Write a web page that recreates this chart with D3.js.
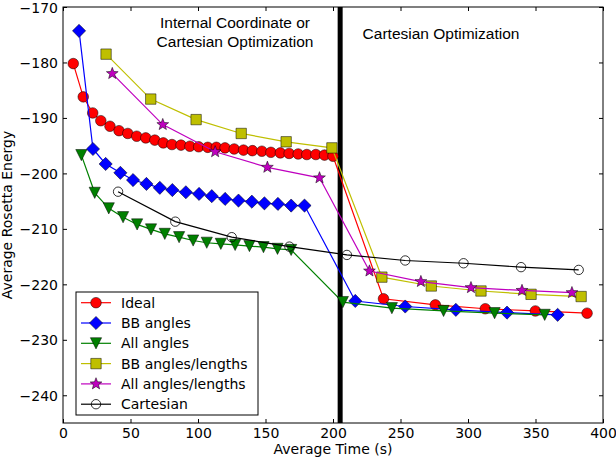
<!DOCTYPE html>
<html><head><meta charset="utf-8">
<script src="https://cdn.jsdelivr.net/npm/d3@7"></script>
<style>
html,body{margin:0;padding:0;background:#fff;}
svg{display:block;}
</style></head>
<body>
<script>
// ---- data ----
const idealT = [7.6, 15, 22, 28, 34.8, 41.5, 48, 54.6, 61.3, 68, 74.3, 80.7, 87.4, 94, 100.5, 107.2, 113.6, 120, 126.8, 133.7, 140.3, 147.3, 154, 161, 167.5, 174.2, 180.6, 187.3, 193.7, 200, 237.4, 275.8, 312.8, 349.9, 388.2];
const idealE = [-180.2, -186.2, -189.1, -190.5, -191.5, -192.3, -192.8, -193.3, -193.6, -194.0, -194.5, -194.8, -194.9, -195.1, -195.2, -195.3, -195.3, -195.4, -195.6, -195.8, -195.9, -196.0, -196.2, -196.3, -196.4, -196.5, -196.6, -196.6, -196.7, -196.9, -222.6, -223.7, -224.4, -224.8, -225.2];
const bbT = [11.9, 22.2, 31.6, 42.5, 51.9, 61.8, 71.7, 81, 91, 100.8, 110.2, 120.1, 130, 139.9, 149.2, 159.2, 169, 178.9, 216.5, 253.5, 291, 328.9, 366.4];
const bbE = [-174.3, -195.6, -198.3, -199.9, -201.2, -201.9, -202.6, -203.0, -203.4, -203.7, -204.1, -204.6, -204.9, -205.1, -205.4, -205.5, -205.8, -205.8, -223.0, -224.0, -224.6, -225.1, -225.5];
const allT = [13.6, 23.5, 33.9, 44.5, 54.9, 65.2, 75.4, 86, 96.4, 106.5, 116.9, 127.5, 138.1, 148.5, 158.9, 169, 207.3, 243.6, 281.9, 319.7, 356.8];
const allE = [-196.7, -203.5, -206.3, -207.9, -209.2, -210.1, -210.9, -211.5, -212.1, -212.5, -212.7, -212.9, -213.1, -213.3, -213.6, -213.8, -223.2, -224.3, -224.8, -225.2, -225.5];
const bbLenT = [31.9, 65, 98.6, 132, 165.3, 199.2, 236.2, 272.8, 309.6, 346.7, 383.8];
const bbLenE = [-178.5, -186.6, -190.3, -192.8, -194.3, -195.4, -218.7, -220.3, -221.2, -221.8, -222.2];
const allLenT = [36.5, 73.9, 112.7, 151.4, 190, 227, 265.1, 302.2, 340, 377];
const allLenE = [-182.0, -191.2, -196.1, -198.9, -200.8, -217.6, -219.5, -220.6, -221.1, -221.5];
const cartT = [40.8, 83.2, 125, 167.7, 210.3, 253.5, 296.7, 339.3, 382];
const cartE = [-203.3, -208.7, -211.5, -213.2, -214.7, -215.7, -216.2, -216.9, -217.4];

const seriesNames = ["Ideal", "BB angles", "All angles", "BB angles/lengths", "All angles/lengths", "Cartesian"];
const xTicks = [0, 50, 100, 150, 200, 250, 300, 350, 400];
const yTicks = [-240, -230, -220, -210, -200, -190, -180, -170];
const phaseSplit = 205.3;
const phaseLabelLeft = ["Internal Coordinate or", "Cartesian Optimization"];
const phaseLabelRight = "Cartesian Optimization";

// ---- styling ----
const styles = [
  {color: "#ff0000", marker: "circle", fill: "#ff0000"},
  {color: "#0000ff", marker: "diamond", fill: "#0000ff"},
  {color: "#008000", marker: "tri", fill: "#008000"},
  {color: "#bfbf00", marker: "square", fill: "#bfbf00"},
  {color: "#bf00bf", marker: "star", fill: "#bf00bf"},
  {color: "#000000", marker: "hollow", fill: "none"}
];
const series = [
  [idealT, idealE], [bbT, bbE], [allT, allE], [bbLenT, bbLenE], [allLenT, allLenE], [cartT, cartE]
].map((s, i) => ({name: seriesNames[i], pts: s[0].map((t, j) => [t, s[1][j]]), ...styles[i]}));

const W = 616, H = 458;
const m = {l: 63, r: 603, t: 7, b: 423};
const svg = d3.select("body").append("svg").attr("width", W).attr("height", H);

const x = d3.scaleLinear().domain([0, 400]).range([m.l, m.r]);
const y = d3.scaleLinear().domain([-245, -170]).range([m.b, m.t]);

function markerPath(type) {
  const p = d3.path();
  if (type === "circle") { p.arc(0, 0, 5.3, 0, 2 * Math.PI); }
  else if (type === "hollow") { p.arc(0, 0, 4.7, 0, 2 * Math.PI); }
  else if (type === "diamond") { const r = 6.6; p.moveTo(0, -r); p.lineTo(r, 0); p.lineTo(0, r); p.lineTo(-r, 0); p.closePath(); }
  else if (type === "square") { const r = 5.2; p.rect(-r, -r, 2 * r, 2 * r); }
  else if (type === "tri") { const r = 5.6; p.moveTo(-r, -r); p.lineTo(r, -r); p.lineTo(0, r); p.closePath(); }
  else if (type === "star") {
    const R = 6.2, ri = R * 0.42;
    for (let k = 0; k < 10; k++) {
      const a = -Math.PI / 2 + k * Math.PI / 5; const rr = k % 2 ? ri : R;
      const px = rr * Math.cos(a), py = rr * Math.sin(a);
      if (k === 0) p.moveTo(px, py); else p.lineTo(px, py);
    }
    p.closePath();
  }
  return p.toString();
}

svg.append("rect").attr("x", m.l).attr("y", m.t).attr("width", m.r - m.l).attr("height", m.b - m.t).attr("fill", "#fff");

// phase divider
svg.append("line").attr("x1", x(phaseSplit)).attr("x2", x(phaseSplit)).attr("y1", m.t).attr("y2", m.b)
  .attr("stroke", "#000").attr("stroke-width", 5);

const line = d3.line().x(d => x(d[0])).y(d => y(d[1]));
const gS = svg.append("g");
series.forEach(s => {
  const g = gS.append("g");
  g.append("path").attr("d", line(s.pts)).attr("fill", "none").attr("stroke", s.color).attr("stroke-width", 1.2);
  g.selectAll("path.mk").data(s.pts).join("path").attr("class", "mk")
    .attr("d", markerPath(s.marker))
    .attr("transform", d => `translate(${x(d[0])},${y(d[1])})`)
    .attr("fill", s.fill).attr("stroke", "#000")
    .attr("stroke-width", s.marker === "hollow" ? 0.8 : 0.5);
});

const fontTick = "DejaVu Sans, sans-serif";
const gx = svg.append("g").attr("transform", `translate(0,${m.b})`)
  .call(d3.axisBottom(x).tickValues(xTicks).tickSizeInner(-4).tickSizeOuter(0).tickPadding(8).tickFormat(d3.format("d")));
const gxt = svg.append("g").attr("transform", `translate(0,${m.t})`)
  .call(d3.axisTop(x).tickValues(xTicks).tickSizeInner(-4).tickSizeOuter(0).tickFormat(""));
const fmtY = d => "\u2212" + Math.abs(d);
const gy = svg.append("g").attr("transform", `translate(${m.l},0)`)
  .call(d3.axisLeft(y).tickValues(yTicks).tickSizeInner(-4).tickSizeOuter(0).tickPadding(8).tickFormat(fmtY));
const gyr = svg.append("g").attr("transform", `translate(${m.r},0)`)
  .call(d3.axisRight(y).tickValues(yTicks).tickSizeInner(-4).tickSizeOuter(0).tickFormat(""));
[gx, gxt, gy, gyr].forEach(g => {
  g.select(".domain").remove();
  g.selectAll(".tick line").attr("stroke", "#000").attr("stroke-width", 1);
  g.selectAll("text").attr("font-family", fontTick).attr("font-size", 14).attr("fill", "#000");
});
gx.selectAll("text").attr("dy", null).attr("y", 14.5);
gy.selectAll("text").attr("dy", "0.36em").attr("x", -5);

svg.append("rect").attr("x", m.l).attr("y", m.t).attr("width", m.r - m.l).attr("height", m.b - m.t)
  .attr("fill", "none").attr("stroke", "#000").attr("stroke-width", 1);

svg.append("text").attr("x", (m.l + m.r) / 2).attr("y", 454).attr("text-anchor", "middle")
  .attr("font-family", fontTick).attr("font-size", 14).text("Average Time (s)");
svg.append("text").attr("transform", `translate(11.5,${(m.t + m.b) / 2}) rotate(-90)`).attr("text-anchor", "middle")
  .attr("font-family", fontTick).attr("font-size", 14).text("Average Rosetta Energy");

const fontAnn = "Liberation Sans, Arial, sans-serif";
const tl = svg.append("text").attr("font-family", fontAnn).attr("font-size", 15.5).attr("text-anchor", "middle");
phaseLabelLeft.forEach((s, i) => tl.append("tspan").attr("x", 235).attr("y", 28 + i * 18.5).text(s));
svg.append("text").attr("font-family", fontAnn).attr("font-size", 15.5).attr("text-anchor", "middle")
  .attr("x", 441).attr("y", 39).text(phaseLabelRight);

// legend
const lg = svg.append("g");
lg.append("rect").attr("x", 76).attr("y", 292).attr("width", 182).attr("height", 123)
  .attr("fill", "#fff").attr("stroke", "#000").attr("stroke-width", 1);
series.forEach((s, i) => {
  const cy = 302.7 + i * 20.3;
  lg.append("line").attr("x1", 81).attr("x2", 111).attr("y1", cy).attr("y2", cy).attr("stroke", s.color).attr("stroke-width", 1.2);
  lg.append("path").attr("d", markerPath(s.marker)).attr("transform", `translate(96,${cy})`)
    .attr("fill", s.fill).attr("stroke", "#000").attr("stroke-width", s.marker === "hollow" ? 0.8 : 0.5);
  lg.append("text").attr("x", 121).attr("y", cy).attr("dy", "0.36em").attr("font-family", fontTick).attr("font-size", 14).text(s.name);
});
</script>
</body></html>
